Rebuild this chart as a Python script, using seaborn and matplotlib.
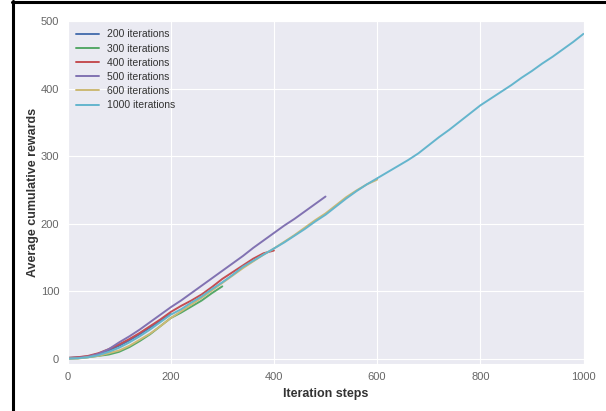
import numpy as np
import pandas as pd
import matplotlib
matplotlib.use("Agg")
import matplotlib.pyplot as plt
import seaborn as sns
from matplotlib.lines import Line2D

steps_200 = list(range(0, 201, 20))
rew_200 = [1, 2, 3, 7, 12, 19, 27, 36, 46, 56, 66]

steps_300 = list(range(0, 301, 20))
rew_300 = [0, 0.5, 2, 4, 6, 10, 17, 26, 36, 48, 60, 68, 77, 86, 97, 107]

steps_400 = list(range(0, 401, 20))
rew_400 = [1, 2, 4, 8, 14, 21, 29, 38, 48, 58, 69, 78, 86, 95, 106, 118,
           128, 138, 148, 156, 160]

steps_500 = list(range(0, 501, 20))
rew_500 = [0, 1, 3, 7, 14, 24, 33, 43, 54, 65, 76, 86, 97, 108, 119, 130,
           141, 152, 164, 175, 186, 197, 207, 218, 229, 240]

steps_600 = list(range(0, 601, 20))
rew_600 = [0, 0, 2, 4, 8, 12, 19, 28, 37, 48, 60, 70, 80, 90, 101, 112,
           123, 134, 144, 154, 163, 173, 183, 194, 205, 215, 227, 239, 249,
           258, 265]

steps_1000 = list(range(0, 1001, 20))
rew_1000 = [0, 0.5, 2, 5, 10, 16, 24, 33, 43, 54, 65, 73, 83, 92, 103, 113,
            124, 136, 145, 154, 163, 172, 182, 192, 203, 213, 225, 237, 248,
            258, 267, 276, 285, 294, 304, 316, 328, 339, 351, 363, 375, 385,
            395, 405, 416, 426, 437, 447, 458, 469, 481]

labels = ["200 iterations", "300 iterations", "400 iterations",
          "500 iterations", "600 iterations", "1000 iterations"]
series = [(steps_200, rew_200), (steps_300, rew_300), (steps_400, rew_400),
          (steps_500, rew_500), (steps_600, rew_600), (steps_1000, rew_1000)]
colors = ["#4C72B0", "#55A868", "#C44E52", "#8172B2", "#CCB974", "#64B5CD"]

x_ticks = [0, 200, 400, 600, 800, 1000]
y_ticks = [0, 100, 200, 300, 400, 500]

# ---- style ----
sns.set_style("darkgrid")
plt.rcParams["font.family"] = ["Liberation Sans", "DejaVu Sans"]

fig = plt.figure(figsize=(6.06, 4.11), dpi=100)
ax = fig.add_axes([0.1114, 0.1144, 0.8515, 0.8345])

for (xs, ys), lab, col in zip(series, labels, colors):
    df = pd.DataFrame({"step": xs, "reward": ys})
    sns.lineplot(data=df, x="step", y="reward", ax=ax, color=col,
                 label=lab, linewidth=1.4)

ax.set_xlim(0, 1000)
ax.set_ylim(-8, 500)
ax.set_xticks(x_ticks)
ax.set_yticks(y_ticks)
ax.tick_params(axis="both", length=0, labelsize=8, labelcolor="#666666",
               pad=6)
ax.set_xlabel("Iteration steps", fontsize=9, fontweight="bold",
              color="#333333", labelpad=4)
ax.set_ylabel("Average cumulative rewards", fontsize=9, fontweight="bold",
              color="#333333", labelpad=1)

leg = ax.legend(loc="upper left", frameon=False, fontsize=7.5,
                handlelength=2.2, labelspacing=0.4, borderaxespad=0.4)
for t in leg.get_texts():
    t.set_color("#333333")

# screenshot frame (black border on left and top)
fig.add_artist(Line2D([13 / 606, 13 / 606], [0, 1 - 1 / 411],
                      transform=fig.transFigure, color="black", linewidth=2.2))
fig.add_artist(Line2D([12 / 606, 1], [1 - 2 / 411, 1 - 2 / 411],
                      transform=fig.transFigure, color="black", linewidth=2.2))

fig.savefig("out.png", dpi=100)
